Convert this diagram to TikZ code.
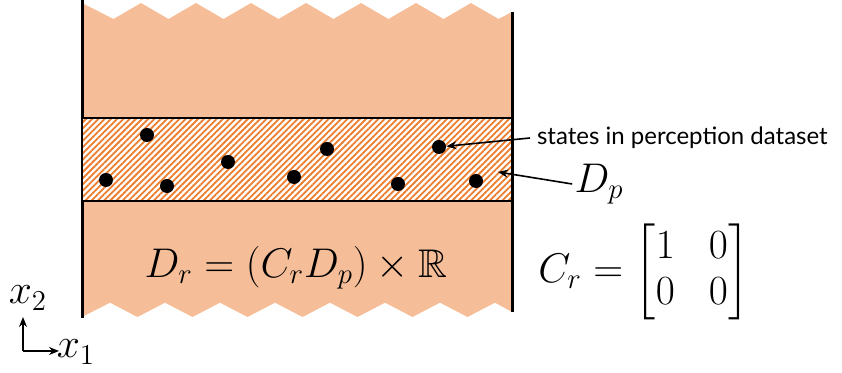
\documentclass[tikz,border=0pt]{standalone}
\usepackage{amsmath}
\usepackage{amssymb}
\usepackage{fontspec}
\setsansfont{Lato}
\usepackage{tikz}
\usetikzlibrary{arrows.meta, patterns.meta}
\definecolor{peach}{RGB}{245,190,152}
\definecolor{hatch}{RGB}{238,125,45}
\tikzset{
  state/.style={circle, fill=black, inner sep=0pt, minimum size=7pt},
  wall/.style={line width=1.5pt},
  pointer/.style={-{Stealth[length=5pt,width=4pt]}, line width=0.8pt},
  bigmath/.style={font=\fontsize{20}{23}\selectfont, inner sep=1pt},
}
\begin{document}
\begin{tikzpicture}[x=0.5pt, y=-0.5pt]
\useasboundingbox (0,0) rectangle (842,373);
% region D_r with broken ends
\fill[peach] (82,3) \foreach \i in {0,...,6} {-- ({113.5+55*\i},19) -- ({141+55*\i},3)}
  -- (498.5,19) -- (512,12) -- (512,312) -- (495,302.7)
  \foreach \i in {6,...,0} {-- ({137.5+55*\i},317) -- ({110+55*\i},302.7)}
  -- (82,317) -- cycle;
\draw[wall] (82,0) -- (82,318);
\draw[wall] (512,12) -- (512,312);
% perception band D_p
\draw[line width=1.2pt, fill=white] (82,118) rectangle (512,201);
\fill[pattern={Lines[angle=45, distance=2.2pt, line width=0.9pt]}, pattern color=hatch]
  (82.8,118.8) rectangle (511.2,200.2);
\draw[line width=1.2pt] (82,118) rectangle (512,201);
% dataset states
\node[state] (s1) at (147,135) {};
\node[state] (s2) at (106,180) {};
\node[state] (s3) at (167,186) {};
\node[state] (s4) at (228,162) {};
\node[state] (s5) at (294,177) {};
\node[state] (s6) at (327,149) {};
\node[state] (s7) at (398,184) {};
\node[state] (s8) at (439,147) {};
\node[state] (s9) at (476,181) {};
% labels
\node[anchor=west, font=\sffamily\fontsize{12}{14}\selectfont] (lstates) at (530,138) {states in perception dataset};
\draw[pointer] (lstates.west) -- (s8);
\node[bigmath] (ldp) at (599,184) {$D_p$};
\coordinate (band) at (498,172);
\draw[pointer] (ldp.west) -- (band);
\node[bigmath] (ldr) at (296,268) {$D_r = (C_r D_p) \times \mathbb{R}$};
\node[bigmath, anchor=west] (lcr) at (536,272)
  {$\setlength{\arraycolsep}{8.5pt}C_r = \begin{bmatrix} 1 & 0 \\ 0 & 0 \end{bmatrix}$};
% axes
\coordinate (o) at (23,351);
\coordinate (e2) at (23,317);
\coordinate (e1) at (59,351);
\draw[pointer] (o) -- (e2);
\draw[pointer] (o) -- (e1);
\node[bigmath] (lx2) at (28,298) {$x_2$};
\node[bigmath] (lx1) at (76,352) {$x_1$};
\end{tikzpicture}
\end{document}
